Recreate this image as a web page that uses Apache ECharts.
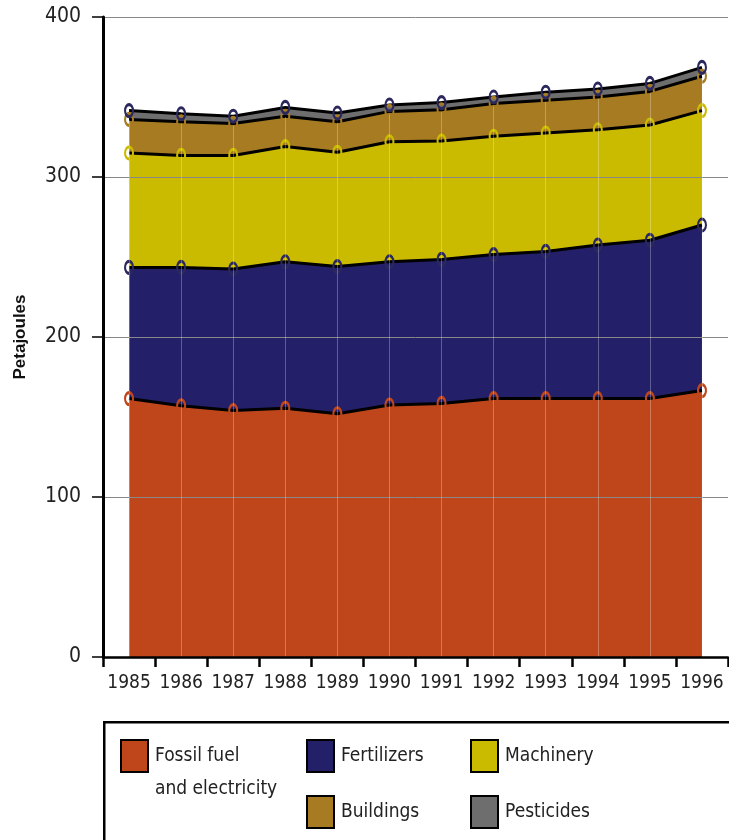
<!DOCTYPE html>
<html>
<head>
<meta charset="utf-8">
<script src="https://cdn.jsdelivr.net/npm/echarts@6/dist/echarts.min.js"></script>
<style>
html,body{margin:0;padding:0;background:#fff;}
#chart{width:729px;height:840px;}
</style>
</head>
<body>
<div id="chart"></div>
<script>
var years = ['1985','1986','1987','1988','1989','1990','1991','1992','1993','1994','1995','1996'];
var fossil      = [161.5, 157, 154, 155.5, 152, 157.5, 158.5, 161.5, 161.5, 161.5, 161.5, 166.5];
var fertilizers = [82, 86.5, 88.5, 91.5, 92, 89.5, 90, 90, 92, 96, 99, 103.5];
var machinery   = [71.5, 70, 71, 72, 71.5, 75, 74, 74, 74, 72, 72, 71.5];
var buildings   = [21, 21, 20, 19, 19, 19, 19.5, 20.5, 20.5, 20.5, 21, 21.5];
var pesticides  = [5.5, 5, 4.5, 5.5, 5.5, 4, 4.5, 4, 5, 5, 5, 5.5];
var yTicks = [0, 100, 200, 300, 400];

var names = ['Fossil fuel and electricity','Fertilizers','Machinery','Buildings','Pesticides'];
var fills = ['#BE461A','#231F68','#CBBB00','#A67B21','#6E6E6E'];
var markerColors = ['#BE461A','#2B285E','#CBBB00','#A67B21','#2B285E'];
var values = [fossil, fertilizers, machinery, buildings, pesticides];
var FONT = '"DejaVu Sans Condensed", "Liberation Sans Narrow", sans-serif';

var totals = years.map(function(_, i){
  return values.reduce(function(s, arr){ return s + arr[i]; }, 0);
});

var series = values.map(function(arr, k){
  var s = {
    name: names[k],
    type: 'line',
    stack: 'total',
    data: arr,
    symbol: 'circle',
    symbolSize: [8, 12],
    showSymbol: true,
    itemStyle: {color: 'rgba(0,0,0,0)', borderColor: markerColors[k], borderWidth: 2.5},
    lineStyle: {color: '#000', width: 3},
    areaStyle: {color: fills[k], opacity: 1},
    emphasis: {disabled: true},
    animation: false,
    z: 2
  };
  if (k === values.length - 1) {
    s.markLine = {
      silent: true,
      symbol: 'none',
      label: {show: false},
      lineStyle: {color: 'rgba(255,255,255,0.28)', width: 1, type: 'solid'},
      data: years.map(function(y, i){
        return [{coord: [y, 0]}, {coord: [y, totals[i] - 6]}];
      })
    };
  }
  return s;
});

var legendPos = [
  {left: 115, top: 734, label: 'Fossil fuel'},
  {left: 301, top: 734, label: 'Fertilizers'},
  {left: 465, top: 734, label: 'Machinery'},
  {left: 301, top: 790, label: 'Buildings'},
  {left: 465, top: 790, label: 'Pesticides'}
];
var legends = legendPos.map(function(p, k){
  return {
    left: p.left, top: p.top,
    orient: 'horizontal',
    icon: 'rect',
    itemWidth: 27, itemHeight: 32,
    itemGap: 8,
    selectedMode: false,
    data: [{name: names[k], itemStyle: {color: fills[k], borderColor: '#000', borderWidth: 2}}],
    formatter: function(){ return p.label; },
    textStyle: {fontFamily: FONT, fontSize: 19, color: '#222', padding: [0,0,0,2]}
  };
});

var chart = echarts.init(document.getElementById('chart'), null, {renderer: 'canvas'});
chart.setOption({
  animation: false,
  backgroundColor: '#fff',
  grid: {left: 103, right: 1, top: 17, bottom: 183, containLabel: false},
  xAxis: {
    type: 'category',
    data: years,
    boundaryGap: true,
    axisLine: {show: true, lineStyle: {color: '#000', width: 2.5}},
    axisTick: {show: true, length: 10, lineStyle: {color: '#000', width: 2.5}},
    axisLabel: {fontFamily: FONT, fontSize: 19, color: '#222', margin: 17, interval: 0},
    splitLine: {show: false},
    z: 5
  },
  yAxis: {
    type: 'value',
    min: yTicks[0], max: yTicks[yTicks.length - 1], interval: 100,
    name: 'Petajoules',
    nameLocation: 'middle',
    nameGap: 74,
    nameRotate: 90,
    nameTextStyle: {fontFamily: '"Liberation Sans", sans-serif', fontWeight: 'bold', fontSize: 17, color: '#111'},
    axisLine: {show: true, lineStyle: {color: '#000', width: 3}},
    axisTick: {show: true, length: 11, lineStyle: {color: '#000', width: 1.5}},
    axisLabel: {fontFamily: FONT, fontSize: 21, color: '#222', margin: 22},
    splitLine: {show: true, lineStyle: {color: '#888', width: 1}},
    z: 5
  },
  legend: legends,
  graphic: [
    {type: 'rect', left: 103, top: 721, z: -1,
     shape: {width: 640, height: 140},
     style: {fill: '#fff', stroke: '#000', lineWidth: 2.5}},
    {type: 'text', left: 155, top: 780,
     style: {text: 'and electricity', font: '19px ' + FONT, fill: '#222'}}
  ],
  series: series
});
</script>
</body>
</html>
